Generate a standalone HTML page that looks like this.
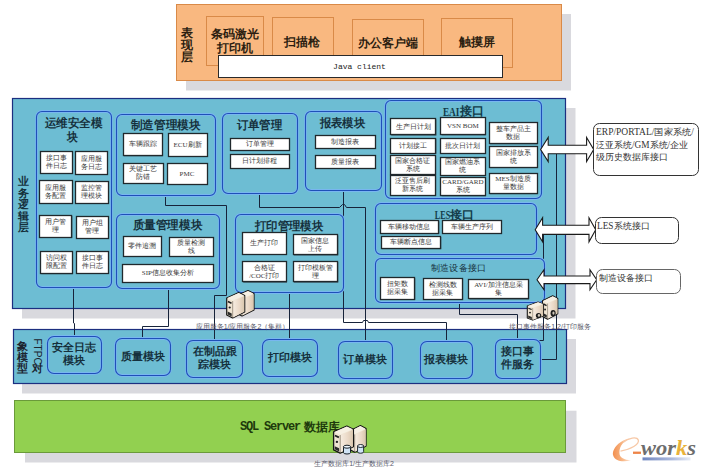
<!DOCTYPE html><html><head><meta charset="utf-8"><style>html,body{margin:0;padding:0;background:#fff;overflow:hidden;width:707px;height:472px;}svg{display:block;font-family:"Liberation Sans",sans-serif;}</style></head><body>
<svg width="707" height="472" viewBox="0 0 707 472">
<rect x="0" y="0" width="707" height="472" fill="#fff" stroke="none" stroke-width="1" rx="0" />
<defs><linearGradient id="tg" x1="0" x2="1" y1="0" y2="0"><stop offset="0" stop-color="#f6ece0"/><stop offset="0.6" stop-color="#ead8c6"/><stop offset="1" stop-color="#d9c7ae"/></linearGradient></defs>
<rect x="186" y="14" width="385" height="76.5" fill="#d9d9de" stroke="none" stroke-width="1" rx="0" />
<rect x="176.5" y="4.5" width="385.0" height="76.0" fill="#f9b880" stroke="#d98a48" stroke-width="1" rx="0" />
<rect x="206.5" y="16.5" width="57.0" height="49.0" fill="none" stroke="#d98a48" stroke-width="1" rx="0" />
<rect x="272.5" y="17.5" width="61.0" height="49.0" fill="none" stroke="#d98a48" stroke-width="1" rx="0" />
<rect x="352.5" y="19.5" width="71.0" height="47.0" fill="none" stroke="#d98a48" stroke-width="1" rx="0" />
<rect x="441.5" y="18.5" width="71.0" height="49.0" fill="none" stroke="#d98a48" stroke-width="1" rx="0" />
<text x="187" y="32" font-size="11.6" fill="#2b1d10" text-anchor="middle" font-weight="bold" font-family="Liberation Sans" dominant-baseline="central" >表</text>
<text x="187" y="44" font-size="11.6" fill="#2b1d10" text-anchor="middle" font-weight="bold" font-family="Liberation Sans" dominant-baseline="central" >现</text>
<text x="187" y="56" font-size="11.6" fill="#2b1d10" text-anchor="middle" font-weight="bold" font-family="Liberation Sans" dominant-baseline="central" >层</text>
<text x="234.5" y="33.75" font-size="11.6" fill="#2b1d10" text-anchor="middle" font-weight="bold" font-family="Liberation Sans" dominant-baseline="central" >条码激光</text>
<text x="234.5" y="47.25" font-size="11.6" fill="#2b1d10" text-anchor="middle" font-weight="bold" font-family="Liberation Sans" dominant-baseline="central" >打印机</text>
<text x="302" y="41" font-size="11.6" fill="#2b1d10" text-anchor="middle" font-weight="bold" font-family="Liberation Sans" dominant-baseline="central" >扫描枪</text>
<text x="387.5" y="42.5" font-size="11.6" fill="#2b1d10" text-anchor="middle" font-weight="bold" font-family="Liberation Sans" dominant-baseline="central" >办公客户端</text>
<text x="476.5" y="41.5" font-size="11.6" fill="#2b1d10" text-anchor="middle" font-weight="bold" font-family="Liberation Sans" dominant-baseline="central" >触摸屏</text>
<rect x="219" y="56.5" width="284" height="21.5" fill="#4a3a2a" stroke="none" stroke-width="1" rx="0" />
<rect x="218.5" y="55.5" width="284.0" height="22.0" fill="#fff" stroke="#2a2a2a" stroke-width="1" rx="0" />
<text x="359.5" y="66" font-size="8" fill="#222" text-anchor="middle" font-weight="normal" font-family="Liberation Mono" dominant-baseline="central" >Java client</text>
<rect x="22" y="108" width="553.5" height="210.5" fill="#d9d9de" stroke="none" stroke-width="1" rx="0" />
<rect x="12.5" y="98.5" width="553.0" height="210.0" fill="#6dbdd3" stroke="#1c2f80" stroke-width="1.2" rx="0" />
<rect x="22" y="339" width="554" height="54.5" fill="#d9d9de" stroke="none" stroke-width="1" rx="0" />
<rect x="13.5" y="329.5" width="553.0" height="54.0" fill="#6dbdd3" stroke="#1c2f80" stroke-width="1.2" rx="0" />
<rect x="25" y="410.7" width="551.5" height="51.8" fill="#d9d9de" stroke="none" stroke-width="1" rx="0" />
<rect x="14.5" y="400.5" width="551.0" height="52.0" fill="#92d050" stroke="#6a9a3a" stroke-width="1" rx="0" />
<text x="23" y="181.0" font-size="11" fill="#15303c" text-anchor="middle" font-weight="bold" font-family="Liberation Sans" dominant-baseline="central" >业</text>
<text x="23" y="192.6" font-size="11" fill="#15303c" text-anchor="middle" font-weight="bold" font-family="Liberation Sans" dominant-baseline="central" >务</text>
<text x="23" y="204.2" font-size="11" fill="#15303c" text-anchor="middle" font-weight="bold" font-family="Liberation Sans" dominant-baseline="central" >逻</text>
<text x="23" y="215.8" font-size="11" fill="#15303c" text-anchor="middle" font-weight="bold" font-family="Liberation Sans" dominant-baseline="central" >辑</text>
<text x="23" y="227.4" font-size="11" fill="#15303c" text-anchor="middle" font-weight="bold" font-family="Liberation Sans" dominant-baseline="central" >层</text>
<path d="M165.5 195.5 L165.5 205.5 L226.5 205.5 L226.5 295.5 L214.5 295.5 L214.5 341" fill="none" stroke="#17233a" stroke-width="1"/>
<path d="M168.5 288.5 L168.5 326.5 L142.5 326.5 L142.5 339" fill="none" stroke="#17233a" stroke-width="1"/>
<path d="M73.5 287 L73.5 323 L74.5 323.5 L74.5 337" fill="none" stroke="#17233a" stroke-width="1"/>
<path d="M259.5 193.5 L259.5 207.5 L339.5 207.5 L342.5 204.5 L344.5 204.5 L346.5 207.5 L365.5 207.5 L365.5 342" fill="none" stroke="#17233a" stroke-width="1"/>
<path d="M343.5 190 L343.5 322.5 L362.5 322.5 L363.5 320.5 L367.5 320.5 L368.5 322.5 L446.5 322.5 L446.5 341.5" fill="none" stroke="#17233a" stroke-width="1"/>
<path d="M289.5 292.5 L289.5 340" fill="none" stroke="#17233a" stroke-width="1"/>
<path d="M459.5 299 L459.5 314.5 L517.5 314.5 L517.5 340.5 L543.5 340.5 L543.5 234" fill="none" stroke="#17233a" stroke-width="1"/>
<path d="M556.5 154 L556.5 359.5 L539.5 359.5" fill="none" stroke="#17233a" stroke-width="1"/>
<rect x="36.5" y="111.5" width="75.0" height="176.0" fill="#6dbdd3" stroke="#78b6f0" stroke-width="2.8" rx="5.5" />
<rect x="36.5" y="111.5" width="75.0" height="176.0" fill="none" stroke="#1f50b8" stroke-width="1.1" rx="5.5" />
<text x="73.7" y="123" font-size="11.5" fill="#15303c" text-anchor="middle" font-weight="bold" font-family="Liberation Sans" dominant-baseline="central" textLength="58.0" lengthAdjust="spacingAndGlyphs" >运维安全模</text>
<text x="72.85" y="136.5" font-size="11.5" fill="#15303c" text-anchor="middle" font-weight="bold" font-family="Liberation Sans" dominant-baseline="central" textLength="10.9" lengthAdjust="spacingAndGlyphs" >块</text>
<rect x="41.3" y="151.8" width="31.5" height="22.0" fill="#3c5560" stroke="none" stroke-width="1" rx="0" />
<rect x="40.5" y="151.5" width="32.0" height="22.0" fill="#fff" stroke="#20282c" stroke-width="1.3" rx="0" />
<text x="56.25" y="158.0" font-size="7" fill="#383838" text-anchor="middle" font-weight="500" font-family="Liberation Serif" dominant-baseline="central" >接口事</text>
<text x="56.25" y="166.0" font-size="7" fill="#383838" text-anchor="middle" font-weight="500" font-family="Liberation Serif" dominant-baseline="central" >件日志</text>
<rect x="75.8" y="152.3" width="32.0" height="22.5" fill="#3c5560" stroke="none" stroke-width="1" rx="0" />
<rect x="75.5" y="151.5" width="32.0" height="23.0" fill="#fff" stroke="#20282c" stroke-width="1.3" rx="0" />
<text x="91.0" y="158.75" font-size="7" fill="#383838" text-anchor="middle" font-weight="500" font-family="Liberation Serif" dominant-baseline="central" >应用服</text>
<text x="91.0" y="166.75" font-size="7" fill="#383838" text-anchor="middle" font-weight="500" font-family="Liberation Serif" dominant-baseline="central" >务日志</text>
<rect x="39.8" y="181.3" width="33.0" height="22.5" fill="#3c5560" stroke="none" stroke-width="1" rx="0" />
<rect x="39.5" y="180.5" width="33.0" height="23.0" fill="#fff" stroke="#20282c" stroke-width="1.3" rx="0" />
<text x="55.5" y="187.75" font-size="7" fill="#383838" text-anchor="middle" font-weight="500" font-family="Liberation Serif" dominant-baseline="central" >应用服</text>
<text x="55.5" y="195.75" font-size="7" fill="#383838" text-anchor="middle" font-weight="500" font-family="Liberation Serif" dominant-baseline="central" >务配置</text>
<rect x="75.8" y="182.3" width="33.0" height="21.5" fill="#3c5560" stroke="none" stroke-width="1" rx="0" />
<rect x="75.5" y="181.5" width="33.0" height="22.0" fill="#fff" stroke="#20282c" stroke-width="1.3" rx="0" />
<text x="91.5" y="188.25" font-size="7" fill="#383838" text-anchor="middle" font-weight="500" font-family="Liberation Serif" dominant-baseline="central" >监控管</text>
<text x="91.5" y="196.25" font-size="7" fill="#383838" text-anchor="middle" font-weight="500" font-family="Liberation Serif" dominant-baseline="central" >理模块</text>
<rect x="39.8" y="215.8" width="32.6" height="22.0" fill="#3c5560" stroke="none" stroke-width="1" rx="0" />
<rect x="39.5" y="215.5" width="32.0" height="22.0" fill="#fff" stroke="#20282c" stroke-width="1.3" rx="0" />
<text x="55.3" y="222.0" font-size="7" fill="#383838" text-anchor="middle" font-weight="500" font-family="Liberation Serif" dominant-baseline="central" >用户管</text>
<text x="55.3" y="230.0" font-size="7" fill="#383838" text-anchor="middle" font-weight="500" font-family="Liberation Serif" dominant-baseline="central" >理</text>
<rect x="76.8" y="216.8" width="32.0" height="22.0" fill="#3c5560" stroke="none" stroke-width="1" rx="0" />
<rect x="76.5" y="216.5" width="32.0" height="22.0" fill="#fff" stroke="#20282c" stroke-width="1.3" rx="0" />
<text x="92.0" y="223.0" font-size="7" fill="#383838" text-anchor="middle" font-weight="500" font-family="Liberation Serif" dominant-baseline="central" >用户组</text>
<text x="92.0" y="231.0" font-size="7" fill="#383838" text-anchor="middle" font-weight="500" font-family="Liberation Serif" dominant-baseline="central" >管理</text>
<rect x="41.3" y="252.20000000000002" width="31.5" height="22.0" fill="#3c5560" stroke="none" stroke-width="1" rx="0" />
<rect x="40.5" y="251.5" width="32.0" height="22.0" fill="#fff" stroke="#20282c" stroke-width="1.3" rx="0" />
<text x="56.25" y="258.4" font-size="7" fill="#383838" text-anchor="middle" font-weight="500" font-family="Liberation Serif" dominant-baseline="central" >访问权</text>
<text x="56.25" y="266.4" font-size="7" fill="#383838" text-anchor="middle" font-weight="500" font-family="Liberation Serif" dominant-baseline="central" >限配置</text>
<rect x="76.8" y="251.8" width="32.0" height="22.0" fill="#3c5560" stroke="none" stroke-width="1" rx="0" />
<rect x="76.5" y="251.5" width="32.0" height="22.0" fill="#fff" stroke="#20282c" stroke-width="1.3" rx="0" />
<text x="92.0" y="258.0" font-size="7" fill="#383838" text-anchor="middle" font-weight="500" font-family="Liberation Serif" dominant-baseline="central" >接口事</text>
<text x="92.0" y="266.0" font-size="7" fill="#383838" text-anchor="middle" font-weight="500" font-family="Liberation Serif" dominant-baseline="central" >件日志</text>
<rect x="116.5" y="114.5" width="99.0" height="81.0" fill="#6dbdd3" stroke="#78b6f0" stroke-width="2.8" rx="5.5" />
<rect x="116.5" y="114.5" width="99.0" height="81.0" fill="none" stroke="#1f50b8" stroke-width="1.1" rx="5.5" />
<text x="165.55" y="125" font-size="11.5" fill="#15303c" text-anchor="middle" font-weight="bold" font-family="Liberation Sans" dominant-baseline="central" textLength="69.7" lengthAdjust="spacingAndGlyphs" >制造管理模块</text>
<rect x="123.8" y="133.8" width="39.0" height="22.5" fill="#3c5560" stroke="none" stroke-width="1" rx="0" />
<rect x="123.5" y="133.5" width="39.0" height="22.0" fill="#fff" stroke="#20282c" stroke-width="1.3" rx="0" />
<text x="142.5" y="144.25" font-size="7" fill="#383838" text-anchor="middle" font-weight="500" font-family="Liberation Serif" dominant-baseline="central" >车辆跟踪</text>
<rect x="168.8" y="133.8" width="39.0" height="23.0" fill="#3c5560" stroke="none" stroke-width="1" rx="0" />
<rect x="168.5" y="133.5" width="39.0" height="23.0" fill="#fff" stroke="#20282c" stroke-width="1.3" rx="0" />
<text x="187.5" y="144.5" font-size="7" fill="#383838" text-anchor="middle" font-weight="500" font-family="Liberation Serif" dominant-baseline="central" >ECU刷新</text>
<rect x="123.8" y="163.8" width="40.0" height="20.0" fill="#3c5560" stroke="none" stroke-width="1" rx="0" />
<rect x="123.5" y="163.5" width="40.0" height="20.0" fill="#fff" stroke="#20282c" stroke-width="1.3" rx="0" />
<text x="143.0" y="169.0" font-size="7" fill="#383838" text-anchor="middle" font-weight="500" font-family="Liberation Serif" dominant-baseline="central" >关键工艺</text>
<text x="143.0" y="177.0" font-size="7" fill="#383838" text-anchor="middle" font-weight="500" font-family="Liberation Serif" dominant-baseline="central" >防错</text>
<rect x="167.8" y="164.20000000000002" width="40.0" height="20.6" fill="#3c5560" stroke="none" stroke-width="1" rx="0" />
<rect x="167.5" y="163.5" width="40.0" height="21.0" fill="#fff" stroke="#20282c" stroke-width="1.3" rx="0" />
<text x="187.0" y="173.7" font-size="7" fill="#383838" text-anchor="middle" font-weight="500" font-family="Liberation Serif" dominant-baseline="central" >PMC</text>
<rect x="116.5" y="214.5" width="103.0" height="74.0" fill="#6dbdd3" stroke="#78b6f0" stroke-width="2.8" rx="5.5" />
<rect x="116.5" y="214.5" width="103.0" height="74.0" fill="none" stroke="#1f50b8" stroke-width="1.1" rx="5.5" />
<text x="167.5" y="225" font-size="11.5" fill="#15303c" text-anchor="middle" font-weight="bold" font-family="Liberation Sans" dominant-baseline="central" textLength="69.6" lengthAdjust="spacingAndGlyphs" >质量管理模块</text>
<rect x="123.8" y="236.8" width="38.0" height="20.0" fill="#3c5560" stroke="none" stroke-width="1" rx="0" />
<rect x="123.5" y="236.5" width="38.0" height="20.0" fill="#fff" stroke="#20282c" stroke-width="1.3" rx="0" />
<text x="142.0" y="246.0" font-size="7" fill="#383838" text-anchor="middle" font-weight="500" font-family="Liberation Serif" dominant-baseline="central" >零件追溯</text>
<rect x="170.0" y="238.0" width="44.0" height="18.8" fill="#3c5560" stroke="none" stroke-width="1" rx="0" />
<rect x="169.5" y="237.5" width="44.0" height="19.0" fill="#fff" stroke="#20282c" stroke-width="1.3" rx="0" />
<text x="191.2" y="242.6" font-size="7" fill="#383838" text-anchor="middle" font-weight="500" font-family="Liberation Serif" dominant-baseline="central" >质量检测</text>
<text x="191.2" y="250.6" font-size="7" fill="#383838" text-anchor="middle" font-weight="500" font-family="Liberation Serif" dominant-baseline="central" >线</text>
<rect x="123.39999999999999" y="265.0" width="90.6" height="18.0" fill="#3c5560" stroke="none" stroke-width="1" rx="0" />
<rect x="122.5" y="264.5" width="91.0" height="18.0" fill="#fff" stroke="#20282c" stroke-width="1.3" rx="0" />
<text x="167.89999999999998" y="273.2" font-size="7" fill="#383838" text-anchor="middle" font-weight="500" font-family="Liberation Serif" dominant-baseline="central" >SIP信息收集分析</text>
<rect x="222.5" y="113.5" width="75.0" height="80.0" fill="#6dbdd3" stroke="#78b6f0" stroke-width="2.8" rx="5.5" />
<rect x="222.5" y="113.5" width="75.0" height="80.0" fill="none" stroke="#1f50b8" stroke-width="1.1" rx="5.5" />
<text x="259.5" y="125" font-size="11.5" fill="#15303c" text-anchor="middle" font-weight="bold" font-family="Liberation Sans" dominant-baseline="central" textLength="45.6" lengthAdjust="spacingAndGlyphs" >订单管理</text>
<rect x="230.8" y="138.8" width="59.0" height="12.0" fill="#3c5560" stroke="none" stroke-width="1" rx="0" />
<rect x="230.5" y="138.5" width="59.0" height="12.0" fill="#fff" stroke="#20282c" stroke-width="1.3" rx="0" />
<text x="259.5" y="144.0" font-size="7" fill="#383838" text-anchor="middle" font-weight="500" font-family="Liberation Serif" dominant-baseline="central" >订单管理</text>
<rect x="230.8" y="154.8" width="59.0" height="14.0" fill="#3c5560" stroke="none" stroke-width="1" rx="0" />
<rect x="230.5" y="154.5" width="59.0" height="14.0" fill="#fff" stroke="#20282c" stroke-width="1.3" rx="0" />
<text x="259.5" y="161.0" font-size="7" fill="#383838" text-anchor="middle" font-weight="500" font-family="Liberation Serif" dominant-baseline="central" >日计划排程</text>
<rect x="305.5" y="111.5" width="76.0" height="79.0" fill="#6dbdd3" stroke="#78b6f0" stroke-width="2.8" rx="5.5" />
<rect x="305.5" y="111.5" width="76.0" height="79.0" fill="none" stroke="#1f50b8" stroke-width="1.1" rx="5.5" />
<text x="342.5" y="123" font-size="11.5" fill="#15303c" text-anchor="middle" font-weight="bold" font-family="Liberation Sans" dominant-baseline="central" textLength="45.6" lengthAdjust="spacingAndGlyphs" >报表模块</text>
<rect x="315.8" y="136.4" width="60.0" height="12.4" fill="#3c5560" stroke="none" stroke-width="1" rx="0" />
<rect x="315.5" y="135.5" width="60.0" height="13.0" fill="#fff" stroke="#20282c" stroke-width="1.3" rx="0" />
<text x="345.0" y="141.8" font-size="7" fill="#383838" text-anchor="middle" font-weight="500" font-family="Liberation Serif" dominant-baseline="central" >制造报表</text>
<rect x="315.8" y="155.8" width="60.0" height="13.0" fill="#3c5560" stroke="none" stroke-width="1" rx="0" />
<rect x="315.5" y="155.5" width="60.0" height="13.0" fill="#fff" stroke="#20282c" stroke-width="1.3" rx="0" />
<text x="345.0" y="161.5" font-size="7" fill="#383838" text-anchor="middle" font-weight="500" font-family="Liberation Serif" dominant-baseline="central" >质量报表</text>
<rect x="235.5" y="214.5" width="108.0" height="78.0" fill="#6dbdd3" stroke="#78b6f0" stroke-width="2.8" rx="5.5" />
<rect x="235.5" y="214.5" width="108.0" height="78.0" fill="none" stroke="#1f50b8" stroke-width="1.1" rx="5.5" />
<text x="289.0" y="226" font-size="11.5" fill="#15303c" text-anchor="middle" font-weight="bold" font-family="Liberation Sans" dominant-baseline="central" textLength="68.6" lengthAdjust="spacingAndGlyphs" >打印管理模块</text>
<rect x="243.20000000000002" y="233.70000000000002" width="43.8" height="21.1" fill="#3c5560" stroke="none" stroke-width="1" rx="0" />
<rect x="242.5" y="232.5" width="44.0" height="22.0" fill="#fff" stroke="#20282c" stroke-width="1.3" rx="0" />
<text x="264.3" y="243.45" font-size="7" fill="#383838" text-anchor="middle" font-weight="500" font-family="Liberation Serif" dominant-baseline="central" >生产打印</text>
<rect x="293.8" y="235.4" width="44.5" height="20.1" fill="#3c5560" stroke="none" stroke-width="1" rx="0" />
<rect x="293.5" y="234.5" width="44.0" height="20.0" fill="#fff" stroke="#20282c" stroke-width="1.3" rx="0" />
<text x="315.25" y="240.65" font-size="7" fill="#383838" text-anchor="middle" font-weight="500" font-family="Liberation Serif" dominant-baseline="central" >国家信息</text>
<text x="315.25" y="248.65" font-size="7" fill="#383838" text-anchor="middle" font-weight="500" font-family="Liberation Serif" dominant-baseline="central" >上传</text>
<rect x="243.20000000000002" y="262.2" width="43.8" height="20.5" fill="#3c5560" stroke="none" stroke-width="1" rx="0" />
<rect x="242.5" y="261.5" width="44.0" height="20.0" fill="#fff" stroke="#20282c" stroke-width="1.3" rx="0" />
<text x="264.3" y="267.65" font-size="7" fill="#383838" text-anchor="middle" font-weight="500" font-family="Liberation Serif" dominant-baseline="central" >合格证</text>
<text x="264.3" y="275.65" font-size="7" fill="#383838" text-anchor="middle" font-weight="500" font-family="Liberation Serif" dominant-baseline="central" >/COC打印</text>
<rect x="293.8" y="262.2" width="44.5" height="20.5" fill="#3c5560" stroke="none" stroke-width="1" rx="0" />
<rect x="293.5" y="261.5" width="44.0" height="20.0" fill="#fff" stroke="#20282c" stroke-width="1.3" rx="0" />
<text x="315.25" y="267.65" font-size="7" fill="#383838" text-anchor="middle" font-weight="500" font-family="Liberation Serif" dominant-baseline="central" >打印模板管</text>
<text x="315.25" y="275.65" font-size="7" fill="#383838" text-anchor="middle" font-weight="500" font-family="Liberation Serif" dominant-baseline="central" >理</text>
<rect x="385.5" y="100.5" width="156.0" height="98.0" fill="#6dbdd3" stroke="#78b6f0" stroke-width="2.8" rx="5.5" />
<rect x="385.5" y="100.5" width="156.0" height="98.0" fill="none" stroke="#1f50b8" stroke-width="1.1" rx="5.5" />
<text x="442.9" y="111.6" font-size="13" fill="#123a48" text-anchor="start" font-weight="bold" font-family="Liberation Serif" dominant-baseline="central" textLength="16.5" lengthAdjust="spacingAndGlyphs" >EAI</text>
<text x="459.8" y="111.3" font-size="11.8" fill="#123a48" text-anchor="start" font-weight="bold" font-family="Liberation Sans" dominant-baseline="central" >接口</text>
<rect x="391.2" y="119.2" width="45.2" height="16.4" fill="#3c5560" stroke="none" stroke-width="1" rx="0" />
<rect x="390.5" y="118.5" width="45.0" height="16.0" fill="#fff" stroke="#20282c" stroke-width="1.3" rx="0" />
<text x="413.0" y="126.6" font-size="7" fill="#383838" text-anchor="middle" font-weight="500" font-family="Liberation Serif" dominant-baseline="central" >生产日计划</text>
<rect x="391.2" y="138.8" width="45.2" height="15.0" fill="#3c5560" stroke="none" stroke-width="1" rx="0" />
<rect x="390.5" y="138.5" width="45.0" height="15.0" fill="#fff" stroke="#20282c" stroke-width="1.3" rx="0" />
<text x="413.0" y="145.5" font-size="7" fill="#383838" text-anchor="middle" font-weight="500" font-family="Liberation Serif" dominant-baseline="central" >计划接工</text>
<rect x="391.2" y="156.5" width="44.9" height="18.3" fill="#3c5560" stroke="none" stroke-width="1" rx="0" />
<rect x="390.5" y="155.5" width="45.0" height="19.0" fill="#fff" stroke="#20282c" stroke-width="1.3" rx="0" />
<text x="412.85" y="160.85" font-size="7" fill="#383838" text-anchor="middle" font-weight="500" font-family="Liberation Serif" dominant-baseline="central" >国家合格证</text>
<text x="412.85" y="168.85" font-size="7" fill="#383838" text-anchor="middle" font-weight="500" font-family="Liberation Serif" dominant-baseline="central" >系统</text>
<rect x="391.2" y="176.20000000000002" width="44.9" height="19.6" fill="#3c5560" stroke="none" stroke-width="1" rx="0" />
<rect x="390.5" y="175.5" width="45.0" height="20.0" fill="#fff" stroke="#20282c" stroke-width="1.3" rx="0" />
<text x="412.85" y="181.2" font-size="7" fill="#383838" text-anchor="middle" font-weight="500" font-family="Liberation Serif" dominant-baseline="central" >泛亚售后刷</text>
<text x="412.85" y="189.2" font-size="7" fill="#383838" text-anchor="middle" font-weight="500" font-family="Liberation Serif" dominant-baseline="central" >新系统</text>
<rect x="441.6" y="118.6" width="44.2" height="16.8" fill="#3c5560" stroke="none" stroke-width="1" rx="0" />
<rect x="440.5" y="117.5" width="45.0" height="17.0" fill="#fff" stroke="#20282c" stroke-width="1.3" rx="0" />
<text x="462.9" y="126.2" font-size="7" fill="#383838" text-anchor="middle" font-weight="500" font-family="Liberation Serif" dominant-baseline="central" >VSN BOM</text>
<rect x="441.6" y="138.8" width="44.2" height="15.0" fill="#3c5560" stroke="none" stroke-width="1" rx="0" />
<rect x="440.5" y="138.5" width="45.0" height="15.0" fill="#fff" stroke="#20282c" stroke-width="1.3" rx="0" />
<text x="462.9" y="145.5" font-size="7" fill="#383838" text-anchor="middle" font-weight="500" font-family="Liberation Serif" dominant-baseline="central" >批次日计划</text>
<rect x="441.6" y="157.8" width="44.2" height="18.0" fill="#3c5560" stroke="none" stroke-width="1" rx="0" />
<rect x="440.5" y="157.5" width="45.0" height="18.0" fill="#fff" stroke="#20282c" stroke-width="1.3" rx="0" />
<text x="462.9" y="162.0" font-size="7" fill="#383838" text-anchor="middle" font-weight="500" font-family="Liberation Serif" dominant-baseline="central" >国家燃油系</text>
<text x="462.9" y="170.0" font-size="7" fill="#383838" text-anchor="middle" font-weight="500" font-family="Liberation Serif" dominant-baseline="central" >统</text>
<rect x="441.6" y="178.20000000000002" width="44.2" height="18.1" fill="#3c5560" stroke="none" stroke-width="1" rx="0" />
<rect x="440.5" y="177.5" width="45.0" height="18.0" fill="#fff" stroke="#20282c" stroke-width="1.3" rx="0" />
<text x="462.9" y="182.45" font-size="7" fill="#383838" text-anchor="middle" font-weight="500" font-family="Liberation Serif" dominant-baseline="central" >CARD/GARD</text>
<text x="462.9" y="190.45" font-size="7" fill="#383838" text-anchor="middle" font-weight="500" font-family="Liberation Serif" dominant-baseline="central" >系统</text>
<rect x="489.8" y="123.3" width="48.0" height="21.0" fill="#3c5560" stroke="none" stroke-width="1" rx="0" />
<rect x="489.5" y="122.5" width="48.0" height="21.0" fill="#fff" stroke="#20282c" stroke-width="1.3" rx="0" />
<text x="513.0" y="129.0" font-size="7" fill="#383838" text-anchor="middle" font-weight="500" font-family="Liberation Serif" dominant-baseline="central" >整车产品主</text>
<text x="513.0" y="137.0" font-size="7" fill="#383838" text-anchor="middle" font-weight="500" font-family="Liberation Serif" dominant-baseline="central" >数据</text>
<rect x="489.8" y="147.5" width="48.0" height="20.6" fill="#3c5560" stroke="none" stroke-width="1" rx="0" />
<rect x="489.5" y="146.5" width="48.0" height="21.0" fill="#fff" stroke="#20282c" stroke-width="1.3" rx="0" />
<text x="513.0" y="153.0" font-size="7" fill="#383838" text-anchor="middle" font-weight="500" font-family="Liberation Serif" dominant-baseline="central" >国家排放系</text>
<text x="513.0" y="161.0" font-size="7" fill="#383838" text-anchor="middle" font-weight="500" font-family="Liberation Serif" dominant-baseline="central" >统</text>
<rect x="489.8" y="173.8" width="48.0" height="20.4" fill="#3c5560" stroke="none" stroke-width="1" rx="0" />
<rect x="489.5" y="173.5" width="48.0" height="20.0" fill="#fff" stroke="#20282c" stroke-width="1.3" rx="0" />
<text x="513.0" y="179.2" font-size="7" fill="#383838" text-anchor="middle" font-weight="500" font-family="Liberation Serif" dominant-baseline="central" >MES制造质</text>
<text x="513.0" y="187.2" font-size="7" fill="#383838" text-anchor="middle" font-weight="500" font-family="Liberation Serif" dominant-baseline="central" >量数据</text>
<rect x="375.5" y="203.5" width="161.0" height="51.0" fill="#6dbdd3" stroke="#78b6f0" stroke-width="2.8" rx="5.5" />
<rect x="375.5" y="203.5" width="161.0" height="51.0" fill="none" stroke="#1f50b8" stroke-width="1.1" rx="5.5" />
<text x="434.8" y="214.8" font-size="13" fill="#123a48" text-anchor="start" font-weight="bold" font-family="Liberation Serif" dominant-baseline="central" textLength="15.5" lengthAdjust="spacingAndGlyphs" >LES</text>
<text x="450" y="214.5" font-size="12" fill="#123a48" text-anchor="start" font-weight="bold" font-family="Liberation Sans" dominant-baseline="central" >接口</text>
<rect x="380.8" y="221.3" width="58.5" height="12.8" fill="#3c5560" stroke="none" stroke-width="1" rx="0" />
<rect x="380.5" y="220.5" width="58.0" height="13.0" fill="#fff" stroke="#20282c" stroke-width="1.3" rx="0" />
<text x="409.25" y="226.9" font-size="7" fill="#383838" text-anchor="middle" font-weight="500" font-family="Liberation Serif" dominant-baseline="central" >车辆移动信息</text>
<rect x="443.5" y="221.3" width="58.3" height="12.5" fill="#3c5560" stroke="none" stroke-width="1" rx="0" />
<rect x="442.5" y="220.5" width="59.0" height="13.0" fill="#fff" stroke="#20282c" stroke-width="1.3" rx="0" />
<text x="471.85" y="226.75" font-size="7" fill="#383838" text-anchor="middle" font-weight="500" font-family="Liberation Serif" dominant-baseline="central" >车辆生产序列</text>
<rect x="381.8" y="237.0" width="59.5" height="12.2" fill="#3c5560" stroke="none" stroke-width="1" rx="0" />
<rect x="381.5" y="236.5" width="59.0" height="12.0" fill="#fff" stroke="#20282c" stroke-width="1.3" rx="0" />
<text x="410.75" y="242.3" font-size="7" fill="#383838" text-anchor="middle" font-weight="500" font-family="Liberation Serif" dominant-baseline="central" >车辆断点信息</text>
<rect x="375.5" y="258.5" width="169.0" height="44.0" fill="#6dbdd3" stroke="#78b6f0" stroke-width="2.8" rx="5.5" />
<rect x="375.5" y="258.5" width="169.0" height="44.0" fill="none" stroke="#1f50b8" stroke-width="1.1" rx="5.5" />
<text x="458.55" y="267.8" font-size="9" fill="#15303c" text-anchor="middle" font-weight="500" font-family="Liberation Sans" dominant-baseline="central" textLength="54.3" lengthAdjust="spacingAndGlyphs" >制造设备接口</text>
<rect x="381.2" y="278.2" width="34.1" height="21.6" fill="#3c5560" stroke="none" stroke-width="1" rx="0" />
<rect x="380.5" y="277.5" width="34.0" height="22.0" fill="#fff" stroke="#20282c" stroke-width="1.3" rx="0" />
<text x="397.45" y="284.2" font-size="7" fill="#383838" text-anchor="middle" font-weight="500" font-family="Liberation Serif" dominant-baseline="central" >扭矩数</text>
<text x="397.45" y="292.2" font-size="7" fill="#383838" text-anchor="middle" font-weight="500" font-family="Liberation Serif" dominant-baseline="central" >据采集</text>
<rect x="423.8" y="279.0" width="39.3" height="20.8" fill="#3c5560" stroke="none" stroke-width="1" rx="0" />
<rect x="423.5" y="278.5" width="39.0" height="21.0" fill="#fff" stroke="#20282c" stroke-width="1.3" rx="0" />
<text x="442.65" y="284.6" font-size="7" fill="#383838" text-anchor="middle" font-weight="500" font-family="Liberation Serif" dominant-baseline="central" >检测线数</text>
<text x="442.65" y="292.6" font-size="7" fill="#383838" text-anchor="middle" font-weight="500" font-family="Liberation Serif" dominant-baseline="central" >据采集</text>
<rect x="469.40000000000003" y="280.40000000000003" width="59.7" height="19.1" fill="#3c5560" stroke="none" stroke-width="1" rx="0" />
<rect x="468.5" y="279.5" width="60.0" height="19.0" fill="#fff" stroke="#20282c" stroke-width="1.3" rx="0" />
<text x="498.45" y="285.15" font-size="7" fill="#383838" text-anchor="middle" font-weight="500" font-family="Liberation Serif" dominant-baseline="central" >AVI/加注信息采</text>
<text x="498.45" y="293.15" font-size="7" fill="#383838" text-anchor="middle" font-weight="500" font-family="Liberation Serif" dominant-baseline="central" >集</text>
<path d="M540.6 149.5 L548.2 137.5 L548.2 145.3 L586.6 145.3 L586.6 137.5 L593.7 149.5 L586.6 161.5 L586.6 153.7 L548.2 153.7 L548.2 161.5 Z" fill="#fff" stroke="#1a1a1a" stroke-width="1.1" stroke-linejoin="miter"/>
<path d="M535.2 229.8 L542.6 217.8 L542.6 225.2 L589.0 225.2 L589.0 217.8 L595.7 229.8 L589.0 241.8 L589.0 234.4 L542.6 234.4 L542.6 241.8 Z" fill="#fff" stroke="#1a1a1a" stroke-width="1.1" stroke-linejoin="miter"/>
<path d="M537 279.8 L544 269.8 L544 276.0 L590.0 276.0 L590.0 269.8 L596.7 279.8 L590.0 289.8 L590.0 283.6 L544 283.6 L544 289.8 Z" fill="#fff" stroke="#1a1a1a" stroke-width="1.1" stroke-linejoin="miter"/>
<rect x="593.5" y="123.5" width="105.0" height="52.0" fill="#fff" stroke="#333" stroke-width="1" rx="6" />
<text x="644.9" y="132.4" font-size="9.3" fill="#333" text-anchor="middle" font-weight="500" font-family="Liberation Serif" dominant-baseline="central" textLength="97.8" lengthAdjust="spacingAndGlyphs" >ERP/PORTAL/国家系统/</text>
<text x="596" y="144.8" font-size="9.3" fill="#333" text-anchor="start" font-weight="500" font-family="Liberation Serif" dominant-baseline="central" >泛亚系统/GM系统/企业</text>
<text x="596" y="157.2" font-size="9.3" fill="#333" text-anchor="start" font-weight="500" font-family="Liberation Serif" dominant-baseline="central" >级历史数据库接口</text>
<rect x="595.5" y="217.5" width="83.0" height="26.0" fill="#fff" stroke="#333" stroke-width="1" rx="6" />
<text x="597" y="225.5" font-size="9.3" fill="#333" text-anchor="start" font-weight="500" font-family="Liberation Serif" dominant-baseline="central" >LES系统接口</text>
<rect x="596.5" y="269.5" width="84.0" height="24.0" fill="#fff" stroke="#666" stroke-width="1" rx="6" />
<text x="599" y="278" font-size="9.3" fill="#333" text-anchor="start" font-weight="500" font-family="Liberation Serif" dominant-baseline="central" >制造设备接口</text>
<g transform="translate(236,290) scale(1,1)">
<path d="M0 6 L12 0.5 L18 3.5 L18 20 L6 26 L0 23 Z" fill="#efe4d2" stroke="#161616" stroke-width="1.2" stroke-linejoin="round"/>
<path d="M6.3 9.2 L17.6 4 L17.6 19.8 L6.3 25.4 Z" fill="url(#tg)"/>
<path d="M0.6 6.1 L12 0.9 L17.4 3.6 L6 8.7 Z" fill="#f7f0e4"/>
<path d="M6 9 L6 26" stroke="#6a5f50" stroke-width="0.6"/>
</g>
<g transform="translate(226.7,292) scale(1.0,1.0)">
<path d="M0 6 L12 0.5 L18 3.5 L18 20 L6 26 L0 23 Z" fill="#efe4d2" stroke="#161616" stroke-width="1.2" stroke-linejoin="round"/>
<path d="M6.3 9.2 L17.6 4 L17.6 19.8 L6.3 25.4 Z" fill="url(#tg)"/>
<path d="M0.6 6.1 L12 0.9 L17.4 3.6 L6 8.7 Z" fill="#f7f0e4"/>
<path d="M6 9 L6 26" stroke="#6a5f50" stroke-width="0.6"/>
<path d="M1.2 9.5 L4.8 11.2" stroke="#222" stroke-width="1.6"/>
<circle cx="3" cy="15.5" r="1.1" fill="#222"/>
<path d="M1 19.5 L5 21.5 L5 24.5 L1 22.5 Z" fill="#2a2a2a"/>
</g>
<g transform="translate(542.5,295.3) scale(0.85,0.92)">
<path d="M0 6 L12 0.5 L18 3.5 L18 20 L6 26 L0 23 Z" fill="#efe4d2" stroke="#161616" stroke-width="1.2" stroke-linejoin="round"/>
<path d="M6.3 9.2 L17.6 4 L17.6 19.8 L6.3 25.4 Z" fill="url(#tg)"/>
<path d="M0.6 6.1 L12 0.9 L17.4 3.6 L6 8.7 Z" fill="#f7f0e4"/>
<path d="M6 9 L6 26" stroke="#6a5f50" stroke-width="0.6"/>
<path d="M1.2 9.5 L4.8 11.2" stroke="#222" stroke-width="1.6"/>
<circle cx="3" cy="15.5" r="1.1" fill="#222"/>
<path d="M1 19.5 L5 21.5 L5 24.5 L1 22.5 Z" fill="#2a2a2a"/>
<ellipse cx="12.5" cy="19.5" rx="3" ry="3.6" fill="#1e1e1e"/>
<ellipse cx="12.9" cy="19.3" rx="1.3" ry="1.8" fill="#cfc6b8"/>
</g>
<g transform="translate(527.3,301.5) scale(0.9,0.72)">
<path d="M0 6 L12 0.5 L18 3.5 L18 20 L6 26 L0 23 Z" fill="#efe4d2" stroke="#161616" stroke-width="1.2" stroke-linejoin="round"/>
<path d="M6.3 9.2 L17.6 4 L17.6 19.8 L6.3 25.4 Z" fill="url(#tg)"/>
<path d="M0.6 6.1 L12 0.9 L17.4 3.6 L6 8.7 Z" fill="#f7f0e4"/>
<path d="M6 9 L6 26" stroke="#6a5f50" stroke-width="0.6"/>
<path d="M1.2 9.5 L4.8 11.2" stroke="#222" stroke-width="1.6"/>
<circle cx="3" cy="15.5" r="1.1" fill="#222"/>
<path d="M1 19.5 L5 21.5 L5 24.5 L1 22.5 Z" fill="#2a2a2a"/>
<ellipse cx="12.5" cy="19.5" rx="3" ry="3.6" fill="#1e1e1e"/>
<ellipse cx="12.9" cy="19.3" rx="1.3" ry="1.8" fill="#cfc6b8"/>
</g>
<text transform="translate(37.7,338.5) rotate(90)" x="0" y="0" font-size="10" fill="#1c2430" font-family="Liberation Sans" dominant-baseline="central">FTPC</text>
<text x="37.7" y="368.3" font-size="10.8" fill="#1c2430" text-anchor="middle" font-weight="bold" font-family="Liberation Sans" dominant-baseline="central" >对</text>
<text x="22.7" y="345.5" font-size="10.8" fill="#1c2430" text-anchor="middle" font-weight="bold" font-family="Liberation Sans" dominant-baseline="central" >象</text>
<text x="22.7" y="356.7" font-size="10.8" fill="#1c2430" text-anchor="middle" font-weight="bold" font-family="Liberation Sans" dominant-baseline="central" >模</text>
<text x="22.7" y="367.9" font-size="10.8" fill="#1c2430" text-anchor="middle" font-weight="bold" font-family="Liberation Sans" dominant-baseline="central" >型</text>
<rect x="47.5" y="336.5" width="54.0" height="37.0" fill="#6dbdd3" stroke="#78b6f0" stroke-width="2.8" rx="6.5" />
<rect x="47.5" y="336.5" width="54.0" height="37.0" fill="none" stroke="#1f50b8" stroke-width="1.1" rx="6.5" />
<text x="74.35" y="346.7" font-size="10.5" fill="#15303c" text-anchor="middle" font-weight="bold" font-family="Liberation Sans" dominant-baseline="central" >安全日志</text>
<text x="74.35" y="360.2" font-size="10.5" fill="#15303c" text-anchor="middle" font-weight="bold" font-family="Liberation Sans" dominant-baseline="central" >模块</text>
<rect x="115.5" y="338.5" width="55.0" height="37.0" fill="#6dbdd3" stroke="#78b6f0" stroke-width="2.8" rx="6.5" />
<rect x="115.5" y="338.5" width="55.0" height="37.0" fill="none" stroke="#1f50b8" stroke-width="1.1" rx="6.5" />
<text x="142.5" y="355.75" font-size="10.5" fill="#15303c" text-anchor="middle" font-weight="bold" font-family="Liberation Sans" dominant-baseline="central" >质量模块</text>
<rect x="186.5" y="340.5" width="56.0" height="37.0" fill="#6dbdd3" stroke="#78b6f0" stroke-width="2.8" rx="6.5" />
<rect x="186.5" y="340.5" width="56.0" height="37.0" fill="none" stroke="#1f50b8" stroke-width="1.1" rx="6.5" />
<text x="214.60000000000002" y="350.7" font-size="10.5" fill="#15303c" text-anchor="middle" font-weight="bold" font-family="Liberation Sans" dominant-baseline="central" >在制品跟</text>
<text x="214.60000000000002" y="364.2" font-size="10.5" fill="#15303c" text-anchor="middle" font-weight="bold" font-family="Liberation Sans" dominant-baseline="central" >踪模块</text>
<rect x="262.5" y="339.5" width="55.0" height="37.0" fill="#6dbdd3" stroke="#78b6f0" stroke-width="2.8" rx="6.5" />
<rect x="262.5" y="339.5" width="55.0" height="37.0" fill="none" stroke="#1f50b8" stroke-width="1.1" rx="6.5" />
<text x="289.5" y="356.85" font-size="10.5" fill="#15303c" text-anchor="middle" font-weight="bold" font-family="Liberation Sans" dominant-baseline="central" >打印模块</text>
<rect x="338.5" y="341.5" width="54.0" height="37.0" fill="#6dbdd3" stroke="#78b6f0" stroke-width="2.8" rx="6.5" />
<rect x="338.5" y="341.5" width="54.0" height="37.0" fill="none" stroke="#1f50b8" stroke-width="1.1" rx="6.5" />
<text x="365.4" y="359.1" font-size="10.5" fill="#15303c" text-anchor="middle" font-weight="bold" font-family="Liberation Sans" dominant-baseline="central" >订单模块</text>
<rect x="420.5" y="341.5" width="52.0" height="37.0" fill="#6dbdd3" stroke="#78b6f0" stroke-width="2.8" rx="6.5" />
<rect x="420.5" y="341.5" width="52.0" height="37.0" fill="none" stroke="#1f50b8" stroke-width="1.1" rx="6.5" />
<text x="446.25" y="358.5" font-size="10.5" fill="#15303c" text-anchor="middle" font-weight="bold" font-family="Liberation Sans" dominant-baseline="central" >报表模块</text>
<rect x="495.5" y="339.5" width="45.0" height="39.0" fill="#6dbdd3" stroke="#78b6f0" stroke-width="2.8" rx="6.5" />
<rect x="495.5" y="339.5" width="45.0" height="39.0" fill="none" stroke="#1f50b8" stroke-width="1.1" rx="6.5" />
<text x="517.5" y="350.95" font-size="10.5" fill="#15303c" text-anchor="middle" font-weight="bold" font-family="Liberation Sans" dominant-baseline="central" >接口事</text>
<text x="517.5" y="364.45" font-size="10.5" fill="#15303c" text-anchor="middle" font-weight="bold" font-family="Liberation Sans" dominant-baseline="central" >件服务</text>
<text x="242.5" y="326" font-size="7" fill="#5a5c6c" text-anchor="middle" font-weight="normal" font-family="Liberation Sans" dominant-baseline="central" >应用服务1/应用服务2（集群）</text>
<text x="550" y="326.6" font-size="7" fill="#5a5c6c" text-anchor="middle" font-weight="normal" font-family="Liberation Sans" dominant-baseline="central" >接口事件服务1,2/打印服务</text>
<text x="240" y="427" font-size="12" fill="#1e3a0c" font-family="Liberation Mono" font-weight="bold" dominant-baseline="central" letter-spacing="-1.2">SQL Server </text>
<text x="321.5" y="426.5" font-size="11.5" fill="#1e3a0c" text-anchor="middle" font-weight="bold" font-family="Liberation Sans" dominant-baseline="central" >数据库</text>
<g transform="translate(349,425) scale(0.95,1.05)">
<path d="M0 6 L12 0.5 L18 3.5 L18 20 L6 26 L0 23 Z" fill="#efe4d2" stroke="#161616" stroke-width="1.2" stroke-linejoin="round"/>
<path d="M6.3 9.2 L17.6 4 L17.6 19.8 L6.3 25.4 Z" fill="url(#tg)"/>
<path d="M0.6 6.1 L12 0.9 L17.4 3.6 L6 8.7 Z" fill="#f7f0e4"/>
<path d="M6 9 L6 26" stroke="#6a5f50" stroke-width="0.6"/>
<path d="M9 20 L9 25.5 A3.2 1.4 0 0 0 15.4 25.5 L15.4 20 Z" fill="#cfe3f5" stroke="#101820" stroke-width="0.9"/>
<ellipse cx="12.2" cy="20" rx="3.2" ry="1.4" fill="#eef6fd" stroke="#101820" stroke-width="0.9"/>
</g>
<g transform="translate(333.6,425.5) scale(1.1,1.06)">
<path d="M0 6 L12 0.5 L18 3.5 L18 20 L6 26 L0 23 Z" fill="#efe4d2" stroke="#161616" stroke-width="1.2" stroke-linejoin="round"/>
<path d="M6.3 9.2 L17.6 4 L17.6 19.8 L6.3 25.4 Z" fill="url(#tg)"/>
<path d="M0.6 6.1 L12 0.9 L17.4 3.6 L6 8.7 Z" fill="#f7f0e4"/>
<path d="M6 9 L6 26" stroke="#6a5f50" stroke-width="0.6"/>
<path d="M1.2 9.5 L4.8 11.2" stroke="#222" stroke-width="1.6"/>
<circle cx="3" cy="15.5" r="1.1" fill="#222"/>
<path d="M1 19.5 L5 21.5 L5 24.5 L1 22.5 Z" fill="#2a2a2a"/>
<path d="M9 20 L9 25.5 A3.2 1.4 0 0 0 15.4 25.5 L15.4 20 Z" fill="#cfe3f5" stroke="#101820" stroke-width="0.9"/>
<ellipse cx="12.2" cy="20" rx="3.2" ry="1.4" fill="#eef6fd" stroke="#101820" stroke-width="0.9"/>
</g>
<text x="354" y="463" font-size="7" fill="#5a5c6c" text-anchor="middle" font-weight="normal" font-family="Liberation Sans" dominant-baseline="central" >生产数据库1/生产数据库2</text>
<defs><linearGradient id="eg" x1="0" x2="1" y1="0" y2="0"><stop offset="0" stop-color="#f29050"/><stop offset="0.55" stop-color="#f8b888"/><stop offset="1" stop-color="#fde6d6"/></linearGradient><linearGradient id="lg" x1="0" x2="1"><stop offset="0" stop-color="#6f86bf"/><stop offset="0.6" stop-color="#aab8dc"/><stop offset="1" stop-color="#e6ebf6"/></linearGradient></defs>
<path d="M630 438.3 C620 440 611.5 449 613.2 455.5 C614.5 461 623 462.5 631 460.2 C624.5 460 619.2 457.8 619.4 452.5 C619.6 446 623.5 441 630 438.3 Z" fill="url(#eg)"/>
<path d="M623 442.5 C628.5 437.6 637 436.5 638.3 440 C639.5 444.5 631 449.2 620.5 451.2" stroke="#f7c8a6" stroke-width="1.3" fill="none"/>
<rect x="633" y="451.6" width="8" height="2.3" fill="#ee8448"/>
<text x="641" y="455.3" font-size="20.5" fill="#6d6d6d" font-family="Liberation Serif" font-style="italic" font-weight="bold" textLength="55" lengthAdjust="spacingAndGlyphs">wor<tspan fill="#e9b23a">k</tspan>s</text>
<rect x="642.5" y="457.4" width="48" height="3" fill="url(#lg)"/>
</svg></body></html>
